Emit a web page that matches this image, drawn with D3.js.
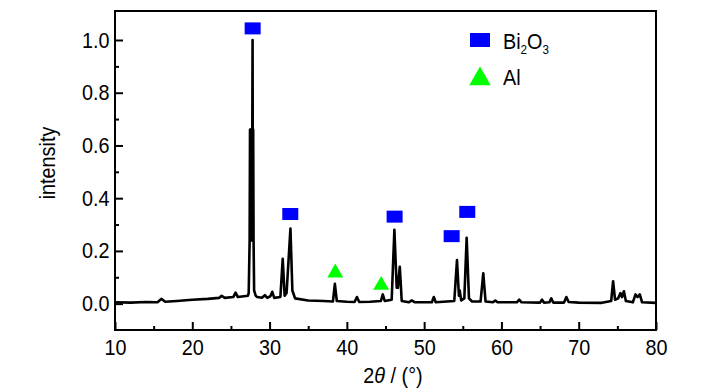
<!DOCTYPE html>
<html>
<head>
<meta charset="utf-8">
<script src="https://cdn.jsdelivr.net/npm/d3@7"></script>
<style>
  body { margin: 0; background: #fff; }
  text { font-family: "Liberation Sans", Arial, sans-serif; fill: #000; }
</style>
</head>
<body>
<script>
// XRD trace: 2theta (deg) and intensity
const twoTheta = [10, 12, 14, 15.5, 16, 16.5, 18, 20, 22, 23.5, 23.8, 24.2, 25.3, 25.6, 25.9,
  27.2, 27.3, 27.42, 27.47, 27.52, 27.57, 27.62, 27.67, 27.72, 27.8, 27.85, 27.88, 27.93, 28.0, 28.2,
  28.4, 29.0, 29.4, 29.7, 30.1, 30.35, 30.6,
  31.4, 31.7, 31.95, 32.2, 32.7, 32.95, 33.3, 35, 37, 38.2, 38.45, 38.7, 40, 41.0, 41.3, 41.6,
  43, 44.4, 44.65, 44.9, 45.8, 46.15, 46.45, 46.6, 46.85, 47.1, 48.0, 48.4, 48.8, 51.0, 51.25, 51.5,
  53.9, 54.25, 54.5, 54.6, 54.8, 55.2, 55.5, 55.8, 56.2, 57.3, 57.65, 57.95, 58.9, 59.2, 59.5,
  62.0, 62.3, 62.6, 65.0, 65.25, 65.5, 66.2, 66.45, 66.7, 68.1, 68.4, 68.7, 70, 73,
  74.2, 74.45, 74.7, 75.1, 75.4, 75.6, 75.85, 76.1, 77.0, 77.35, 77.6, 77.9, 78.2, 80];
const intensity = [0.005, 0.004, 0.006, 0.005, 0.018, 0.007, 0.010, 0.015, 0.018, 0.022, 0.030, 0.022, 0.025, 0.042, 0.025,
  0.03, 0.04, 0.24, 0.66, 0.24, 0.66, 0.24, 0.66, 0.24, 1.0, 0.24, 0.66, 0.24, 0.05, 0.03,
  0.025, 0.022, 0.032, 0.022, 0.028, 0.045, 0.022,
  0.025, 0.17, 0.03, 0.04, 0.285, 0.05, 0.02, 0.012, 0.01, 0.008, 0.075, 0.01, 0.007, 0.006, 0.025, 0.006,
  0.007, 0.01, 0.035, 0.01, 0.015, 0.28, 0.06, 0.06, 0.14, 0.01, 0.005, 0.012, 0.005, 0.005, 0.025, 0.005,
  0.01, 0.165, 0.03, 0.05, 0.012, 0.02, 0.25, 0.02, 0.008, 0.008, 0.115, 0.008, 0.005, 0.012, 0.005,
  0.005, 0.015, 0.005, 0.004, 0.015, 0.004, 0.005, 0.02, 0.004, 0.004, 0.025, 0.006, 0.004, 0.003,
  0.01, 0.085, 0.015, 0.02, 0.04, 0.025, 0.047, 0.01, 0.005, 0.035, 0.025, 0.035, 0.005, 0.003];

// phase markers [2theta, height]
const bi2o3Marks = [[27.81, 1.044], [32.68, 0.34], [46.18, 0.33], [53.56, 0.256], [55.58, 0.348]];
const alMarks = [[38.5, 0.117], [44.44, 0.07]];

const xTicks = [10, 20, 30, 40, 50, 60, 70, 80];
const xMinor = [15, 25, 35, 45, 55, 65, 75];
const yTicks = [0.0, 0.2, 0.4, 0.6, 0.8, 1.0];
const yMinor = [0.1, 0.3, 0.5, 0.7, 0.9];
const legendItems = ["Bi2O3", "Al"];

const width = 728, height = 390,
      margin = {top: 11, right: 72, bottom: 60, left: 115},
      w = width - margin.left - margin.right,
      h = height - margin.top - margin.bottom,
      fs = "22px",
      squeeze = "scale(0.9,1)"; // the original type is a bit condensed

const svg = d3.select("body").append("svg")
  .attr("width", width)
  .attr("height", height);

const x = d3.scaleLinear().domain([10, 80]).range([margin.left, margin.left + w]);
const y = d3.scaleLinear().domain([-0.1, 1.11]).range([margin.top + h, margin.top]);

// axes, ticks pointing inward
svg.append("g")
  .attr("transform", "translate(0," + (margin.top + h) + ")")
  .call(d3.axisBottom(x).tickValues(xTicks).tickSize(-8).tickPadding(9).tickFormat(d3.format("d")))
  .call(g => g.select(".domain").remove())
  .call(g => g.selectAll("line").attr("stroke-width", 2))
  .call(g => g.selectAll("text").style("font-size", fs).attr("transform", squeeze));

svg.append("g")
  .attr("transform", "translate(0," + (margin.top + h) + ")")
  .call(d3.axisBottom(x).tickValues(xMinor).tickSize(-4).tickFormat(""))
  .call(g => g.select(".domain").remove())
  .call(g => g.selectAll("line").attr("stroke-width", 2));

svg.append("g")
  .attr("transform", "translate(" + margin.left + ",0)")
  .call(d3.axisLeft(y).tickValues(yTicks).tickSize(-8).tickPadding(6).tickFormat(d3.format(".1f")))
  .call(g => g.select(".domain").remove())
  .call(g => g.selectAll("line").attr("stroke-width", 2))
  .call(g => g.selectAll("text").style("font-size", fs).attr("transform", squeeze));

svg.append("g")
  .attr("transform", "translate(" + margin.left + ",0)")
  .call(d3.axisLeft(y).tickValues(yMinor).tickSize(-4).tickFormat(""))
  .call(g => g.select(".domain").remove())
  .call(g => g.selectAll("line").attr("stroke-width", 2));

// the trace
const line = d3.line()
  .x((d, i) => x(twoTheta[i]))
  .y(d => y(d));

svg.append("path")
  .datum(intensity)
  .attr("d", line)
  .attr("fill", "none")
  .attr("stroke", "#000")
  .attr("stroke-width", 2.6)
  .attr("stroke-linejoin", "round");

// frame
svg.append("rect")
  .attr("x", margin.left)
  .attr("y", margin.top)
  .attr("width", w)
  .attr("height", h)
  .attr("fill", "none")
  .attr("stroke", "#000")
  .attr("stroke-width", 2);

// markers
svg.selectAll(".bi")
  .data(bi2o3Marks)
  .enter().append("rect")
  .attr("class", "bi")
  .attr("x", d => x(d[0]) - 8)
  .attr("y", d => y(d[1]) - 6)
  .attr("width", 16)
  .attr("height", 12)
  .attr("fill", "#0000ff");

const tri = d3.symbol().type(d3.symbolTriangle).size(110);
svg.selectAll(".al")
  .data(alMarks)
  .enter().append("path")
  .attr("class", "al")
  .attr("transform", d => "translate(" + x(d[0]) + "," + y(d[1]) + ")")
  .attr("d", tri)
  .attr("fill", "#00ff00");

// legend
const legend = svg.append("g").attr("transform", "translate(470,0)");
legend.append("rect")
  .attr("x", 0).attr("y", 33)
  .attr("width", 20).attr("height", 14)
  .attr("fill", "#0000ff");
legend.append("path")
  .attr("transform", "translate(10,79)")
  .attr("d", d3.symbol().type(d3.symbolTriangle).size(200))
  .attr("fill", "#00ff00");

const lt = legend.append("text")
  .attr("transform", "translate(33,49) " + squeeze)
  .style("font-size", fs);
lt.append("tspan").text("Bi");
lt.append("tspan").attr("dy", 5).style("font-size", "13px").text("2");
lt.append("tspan").attr("dy", -5).text("O");
lt.append("tspan").attr("dy", 5).style("font-size", "13px").text("3");

legend.append("text")
  .attr("transform", "translate(33,85) " + squeeze)
  .style("font-size", fs)
  .text(legendItems[1]);

// axis titles
svg.append("text")
  .attr("transform", "translate(55,163) rotate(-90) " + squeeze)
  .attr("text-anchor", "middle")
  .style("font-size", fs)
  .text("intensity");

const xt = svg.append("text")
  .attr("transform", "translate(393,383) " + squeeze)
  .attr("text-anchor", "middle")
  .style("font-size", fs);
xt.append("tspan").text("2");
xt.append("tspan").style("font-style", "italic").text("\u03b8");
xt.append("tspan").text(" / (\u00b0)");
</script>
</body>
</html>
